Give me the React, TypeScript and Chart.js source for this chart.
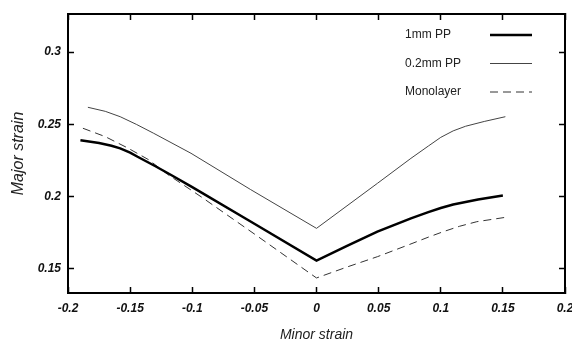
import { useEffect, useRef } from "react";
import { Chart, registerables } from "chart.js";

Chart.register(...registerables);

// ---- data ----
const seriesNames = ["1mm PP", "0.2mm PP", "Monolayer"];

const pp1mmX = [-0.19, -0.175, -0.165, -0.158, -0.15, -0.144, -0.13, -0.117, -0.1, -0.05, 0, 0.025, 0.049, 0.076, 0.09, 0.1, 0.11, 0.13, 0.15];
const pp1mmY = [0.239, 0.2371, 0.2352, 0.2334, 0.2305, 0.2276, 0.2212, 0.215, 0.2066, 0.1813, 0.1558, 0.1661, 0.1758, 0.185, 0.1893, 0.1922, 0.1946, 0.198, 0.2008];

const pp02X = [-0.184, -0.17, -0.158, -0.145, -0.131, -0.101, -0.053, 0, 0.049, 0.076, 0.09, 0.1, 0.11, 0.12, 0.135, 0.152];
const pp02Y = [0.2618, 0.259, 0.2553, 0.25, 0.2438, 0.23, 0.2049, 0.1781, 0.2092, 0.2265, 0.235, 0.241, 0.2455, 0.2487, 0.252, 0.2553];

const monoX = [-0.188, -0.17, -0.152, -0.135, -0.12, -0.093, -0.05, 0, 0.025, 0.049, 0.075, 0.09, 0.102, 0.115, 0.129, 0.152];
const monoY = [0.2473, 0.2415, 0.2337, 0.2255, 0.2155, 0.2, 0.1742, 0.1438, 0.1515, 0.1585, 0.167, 0.172, 0.1758, 0.1795, 0.1827, 0.1857];

const xTicks = [-0.2, -0.15, -0.1, -0.05, 0, 0.05, 0.1, 0.15, 0.2];
const xTickLabels = ["-0.2", "-0.15", "-0.1", "-0.05", "0", "0.05", "0.1", "0.15", "0.2"];
const yTicks = [0.15, 0.2, 0.25, 0.3];
const yTickLabels = ["0.15", "0.2", "0.25", "0.3"];
const xRange = [-0.2, 0.2];
const yRange = [0.1334, 0.3263];

const xTitle = "Minor strain";
const yTitle = "Major strain";

const FAMILY = "'Liberation Sans', Arial, sans-serif";

const toPoints = (xs: number[], ys: number[]) => xs.map((x, i) => ({ x, y: ys[i] }));

const insideLegend = {
  id: "insideLegend",
  afterDatasetsDraw(chart: any) {
    const { ctx, chartArea } = chart;
    ctx.save();
    chart.data.datasets.forEach((ds: any, i: number) => {
      const y = chartArea.top + 21 + i * 28.5;
      ctx.font = `12px ${FAMILY}`;
      ctx.fillStyle = "#222";
      ctx.textBaseline = "middle";
      ctx.textAlign = "left";
      ctx.fillText(ds.label, chartArea.left + 337, y);
      ctx.beginPath();
      ctx.setLineDash(ds.borderDash || []);
      ctx.lineWidth = ds.borderWidth;
      ctx.strokeStyle = ds.borderColor;
      ctx.moveTo(chartArea.left + 422, y);
      ctx.lineTo(chartArea.left + 464, y);
      ctx.stroke();
    });
    ctx.restore();
  },
};

const fixBox = (size: { width?: number; height?: number }) => (s: any) => {
  if (size.width !== undefined) s.width = size.width;
  if (size.height !== undefined) s.height = size.height;
  s.paddingLeft = 0;
  s.paddingRight = 0;
  s.paddingTop = 0;
  s.paddingBottom = 0;
};

export default function App() {
  const ref = useRef<HTMLCanvasElement | null>(null);

  useEffect(() => {
    document.body.style.margin = "0";
    if (!ref.current) return;
    const tickFont = { family: FAMILY, size: 12, weight: "bold" as const, style: "italic" as const };
    const grid = {
      display: true,
      drawOnChartArea: false,
      drawTicks: true,
      tickLength: -6,
      tickColor: "#000",
      tickWidth: 1.5,
    };
    const border = { display: true, color: "#000", width: 2 };
    const setX = (s: any) => {
      s.ticks = xTicks.map((value) => ({ value }));
    };
    const setY = (s: any) => {
      s.ticks = yTicks.map((value) => ({ value }));
    };

    const chart = new Chart(ref.current, {
      type: "line",
      data: {
        datasets: [
          {
            label: seriesNames[0],
            data: toPoints(pp1mmX, pp1mmY),
            borderColor: "#000",
            borderWidth: 2.5,
            pointRadius: 0,
            tension: 0,
            fill: false,
          },
          {
            label: seriesNames[1],
            data: toPoints(pp02X, pp02Y),
            borderColor: "#444",
            borderWidth: 1,
            pointRadius: 0,
            tension: 0,
            fill: false,
          },
          {
            label: seriesNames[2],
            data: toPoints(monoX, monoY),
            borderColor: "#333",
            borderWidth: 1,
            borderDash: [8, 5],
            pointRadius: 0,
            tension: 0,
            fill: false,
          },
        ],
      },
      options: {
        animation: false,
        responsive: false,
        devicePixelRatio: 1,
        layout: { padding: 0 },
        plugins: {
          legend: { display: false },
          tooltip: { enabled: false },
        },
        scales: {
          x: {
            type: "linear",
            position: "bottom",
            min: xRange[0],
            max: xRange[1],
            afterBuildTicks: setX,
            afterFit: fixBox({ height: 49 }),
            ticks: {
              callback: (_v: any, i: number) => xTickLabels[i],
              font: tickFont,
              color: "#111",
              padding: 14,
              maxRotation: 0,
              autoSkip: false,
            },
            grid,
            border,
            title: {
              display: true,
              text: xTitle,
              font: { family: FAMILY, size: 14, style: "italic" },
              color: "#222",
              padding: { top: 0, bottom: -2 },
            },
          },
          x2: {
            type: "linear",
            position: "top",
            min: xRange[0],
            max: xRange[1],
            afterBuildTicks: setX,
            afterFit: fixBox({ height: 14 }),
            ticks: { display: false },
            grid,
            border,
          },
          y: {
            type: "linear",
            position: "left",
            min: yRange[0],
            max: yRange[1],
            afterBuildTicks: setY,
            afterFit: fixBox({ width: 68 }),
            ticks: {
              callback: (_v: any, i: number) => yTickLabels[i],
              font: tickFont,
              color: "#111",
              padding: 13,
              autoSkip: false,
            },
            grid,
            border,
            title: {
              display: true,
              text: yTitle,
              font: { family: FAMILY, size: 16, style: "italic" },
              color: "#222",
              padding: { top: 9, bottom: 0 },
            },
          },
          y2: {
            type: "linear",
            position: "right",
            min: yRange[0],
            max: yRange[1],
            afterBuildTicks: setY,
            afterFit: fixBox({ width: 7 }),
            ticks: { display: false },
            grid,
            border,
          },
        },
      } as any,
      plugins: [insideLegend],
    });
    return () => chart.destroy();
  }, []);

  return (
    <div style={{ position: "absolute", left: 0, top: 0, width: 572, height: 342, background: "#fff" }}>
      <canvas ref={ref} width={572} height={342} />
    </div>
  );
}
